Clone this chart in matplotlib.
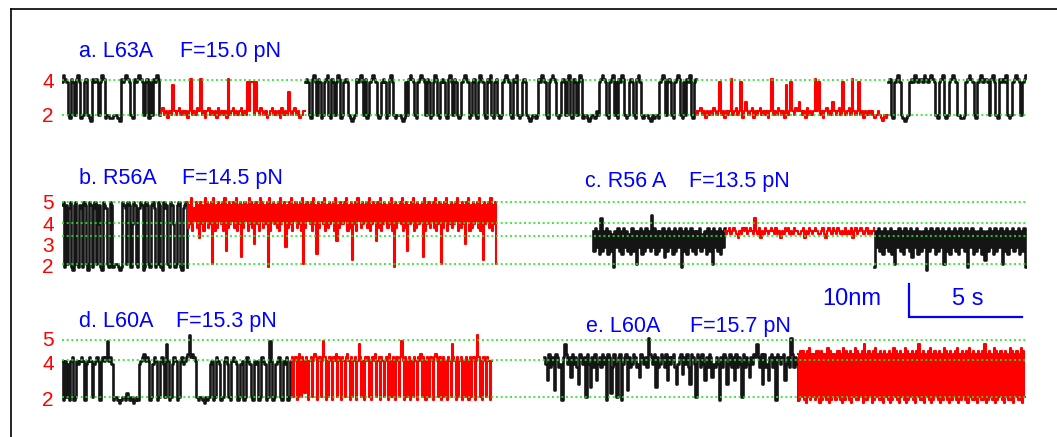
import numpy as np
import matplotlib
matplotlib.use('Agg')
import matplotlib.pyplot as plt
from matplotlib.lines import Line2D

plt.rcParams['font.family'] = ['Liberation Sans', 'DejaVu Sans']

W, H = 1057, 437
PX_PER_NM = 3.27      # vertical scale (10 nm bar)
PX_PER_S = 22.54      # horizontal scale (5 s bar)
X0 = 62               # left edge of the traces, px
T_SPAN = 42.8         # seconds shown per row

# extension of each state, nm above state 2
LEVELS_A = [0.0, 10.5]
LEVELS_BC = [0.0, 8.5, 12.4, 18.8]
LEVELS_DE = [0.0, 11.1, 17.4]

# state labels and the height (nm) each label is written at
LABELS_A = ['2', '4']
LABEL_Y_A = [0.0, 10.5]
LABELS_BC = ['2', '3', '4', '5']
LABEL_Y_BC = [-0.4, 6.0, 12.3, 19.0]
LABELS_DE = ['2', '4', '5']
LABEL_Y_DE = [-0.5, 10.6, 17.9]

# extension traces, one letter per sample: 'a' = -4 nm, +1 nm per letter
A_BLACK1 = "oqpoedpoepqodeopedcpopoeoqpdeeddeeedcpopqpoedpopqpoeopdoepoqpe"
A_RED1 = ("efgefdfenf" "efgefefdfp" "efegfpefdf" "gefefdgefe" "fdpefgefef"
          "gefeofooeo" "fegfefdefg" "efefdgefel" "fefgefdeff")
A_BLACK2 = ("opoedpqoepodeopqedpo" "eoqpdeopoedcdepopqoe" "pdeopqpoedeopodepqoe"
            "deeedcdoepqpoedopqpo" "epodeoqpedopoedpqoep" "oedeopqpodeopedoqpoe"
            "dpoqedopedeopqpoedpo" "qedeopoedcdeedepoqpo" "edopqpoedeopoepqedpo"
            "eoqpdeedcdeedfeopqpo" "edopqeodpoqpedeopoed" "pqoedeeedcedeedopqpe"
            "opoedopqpedoepoqedop")
A_RED2 = ("fefgefdfef" "egfefoefdf" "efpefgefod" "fifefgdfef" "gefefdfpef"
          "egfefdnefo" "fegfifefdg" "efefpfoefd" "fgefeifefg" "eofefgepfe"
          "foefdfefef" "edefedcede")
A_BLACK3 = ("opedopqoed" "cdeopoqpop" "poqpopqpoe" "dopqedeopq" "poeeddeopq"
            "poedopqopp" "oepqoedpop" "oqedeopqpo" "eopq")

B_BLACK = ("wxdwevxdcwxedwvdxwecxwdvxeqwdcxwvedxwdeeedcdxwvexwdqxwedvxwcdxwed"
           "wxvdexwdcxvwedxwqdewxdcvwxd")
B_RED = ("xpwqyovrxpwmxqwoyrxp" "wqxeyowpxrwqxoyiwpxq" "wrxpyowqxgwpxrwoyqxp"
         "wkxqwoyrxpwqxdyowrxq" "wpxoyqwrxjwpxqyowrxp" "wqxoyewpxrwqxoyqwhxp"
         "wrxqyowpxqwrxoylwpxq" "wqxryowpxfwqxoyrwpxq" "wrxpyowqxrwlxpyowqxr"
         "wpxqyowdxpwrxqyowpxi" "wqxryowpxqwrxgyowqxp" "wrxpyowqxewpxryowqxp"
         "wqxryowpxqwkxryowpxq" "wrxpyowfxqwrxpyowqxe")

C_BLACK1 = ("oipjohsiojphoindojpi" "ohpjoinhpioeojphoipj" "oitjphoiojpgoipjohpi"
            "ojpdoiphojpiohojpinj" "ohpioepjoiphojp")
C_RED = ("onopnoponm" "onpopnopon" "sonpmonpon" "oponpnomon" "popnonpoon"
         "nopmonpono" "ponnopnmop" "onponponon" "pnonpmopno" "ponopnonop")
C_BLACK2 = ("dojpiohpjoiphoeojpio" "hpjoipgojphoiojpcoip" "johpiojpeoiphojpiohp"
            "joipdojphoiojphofoip" "johpiojpeoiphojpiojphoipd")

D_BLACK = ("pdpeodpqdepo" "pqpdopqpeopqpd" "pqpqvpqo" "deedcdeedfedecded" "opqrpqp"
           "deoqpdepqoeupdeoqpdepqo" "pqrxqrqp" "edeedcede"
           "opdeqpodepqoedpqpodeopdeqpoedpopdeqpodevpdeopqedpoqdep")
D_RED = ("pqepqdpreqpfqpdpqepr" "qdpqepvqdpeqpdqpreqp" "dqpeqrpdqepqdpuqepdq"
         "pqepdqprepqdqpepqdrp" "eqpdqpeqvpdqepqdpeqp" "dqpreqpdqpeqpdqrpeqd"
         "pqepdqpeuqpdqepqdpeq" "pdqepqdpxqepdqpeqpdp")

E_BLACK = ("qojrnqogrqnodquroqkr" "oqnirqoqerohqnrjoqnr" "oqdrqfnroeqrdoqrgqno"
           "rqnokrqoqnwrqorhqnor" "qnrjqoqrnioqrlqornir" "qoerqnrojqnrqkonqodq"
           "nrqiornqjrnqoernqokq" "orquqnrirnojqrnqdrqo" "qrjoqnwrnqod")
E_RED = ("rdsesdrcsetdrerdsesc" "sdrerdtcsdrerdsesdrc" "tdserdscretdsdrescud"
         "rdsercsdterdsdrcserd" "scrdtesdrcserdtcsdre" "sdrcseudrdscresdtcrd"
         "serdscrdtesdrcsdresd" "tcrdserdscterdsdrcse" "rdsducrdserdtcsdresd"
         "rcserdtdscresdrdtcse")

# segments: (start s, end s, colour, samples)
ROW_A = [(0.0, 4.35, 'black', A_BLACK1), (4.35, 10.78, 'red', A_RED1),
         (10.78, 28.13, 'black', A_BLACK2), (28.13, 36.65, 'red', A_RED2),
         (36.65, 42.77, 'black', A_BLACK3)]
ROW_BC = [(0.0, 5.56, 'black', B_BLACK), (5.56, 19.28, 'red', B_RED),
          (23.54, 29.41, 'black', C_BLACK1), (29.41, 36.04, 'red', C_RED),
          (36.04, 42.75, 'black', C_BLACK2)]
ROW_DE = [(0.0, 10.16, 'black', D_BLACK), (10.16, 19.06, 'red', D_RED),
          (21.40, 32.67, 'black', E_BLACK), (32.67, 42.72, 'red', E_RED)]

# panel captions: (x px, baseline px, text)
CAPTIONS = [(79, 57, "a. L63A"), (180, 57, "F=15.0 pN"),
            (79, 184, "b. R56A"), (182, 184, "F=14.5 pN"),
            (585, 187, "c. R56 A"), (689, 187, "F=13.5 pN"),
            (79, 327, "d. L60A"), (176, 327, "F=15.3 pN"),
            (586, 332, "e. L60A"), (690, 332, "F=15.7 pN")]

SCALE_NM = 10
SCALE_S = 5

TRACE_COLORS = {'black': '#151515', 'red': '#ff0000'}


def decode(codes):
    return np.array([ord(c) - ord('a') - 4 for c in codes], dtype=float)


def add_row(fig, base_px, ylo, yhi, levels, labels, label_y, segments):
    bottom = H - base_px + ylo * PX_PER_NM
    ax = fig.add_axes([X0 / W, bottom / H, T_SPAN * PX_PER_S / W,
                       (yhi - ylo) * PX_PER_NM / H])
    ax.set_xlim(0, T_SPAN)
    ax.set_ylim(ylo, yhi)
    for t0, t1, color, codes in segments:
        y = decode(codes)
        t = np.linspace(t0, t1, len(y))
        lw = 1.9 if color == 'black' else 1.5
        ax.plot(t, y, color=TRACE_COLORS[color], lw=lw, drawstyle='steps-mid')
    for v in levels:
        ax.axhline(v, color='#22e622', lw=1.2, ls=(0, (1.2, 1.6)), zorder=5)
    ax.set_yticks(label_y)
    ax.set_yticklabels(labels, color='red', fontsize=15)
    ax.tick_params(axis='y', length=0, pad=6)
    ax.set_xticks([])
    for s in ax.spines.values():
        s.set_visible(False)
    ax.patch.set_alpha(0)
    return ax


fig = plt.figure(figsize=(W / 100, H / 100), dpi=100)

add_row(fig, 114.7, -6, 14, LEVELS_A, LABELS_A, LABEL_Y_A, ROW_A)
add_row(fig, 263.7, -6, 22, LEVELS_BC, LABELS_BC, LABEL_Y_BC, ROW_BC)
ax_de = add_row(fig, 396.7, -6, 22, LEVELS_DE, LABELS_DE, LABEL_Y_DE, ROW_DE)

# scale bar in the data units of the last row
bar_t = (909 - X0) / PX_PER_S
bar_y = (396.7 - 316.7) / PX_PER_NM
ax_de.plot([bar_t, bar_t, bar_t + SCALE_S], [bar_y + SCALE_NM, bar_y, bar_y],
           color='blue', lw=1.6, clip_on=False, solid_joinstyle='miter')
fig.text(822 / W, 1 - 305 / H, f"{SCALE_NM}nm", color='blue', fontsize=17,
         va='baseline', ha='left')
fig.text(952 / W, 1 - 305 / H, f"{SCALE_S} s", color='blue', fontsize=17,
         va='baseline', ha='left')

for x, y, s in CAPTIONS:
    fig.text(x / W, 1 - y / H, s, color='blue', fontsize=15.5,
             va='baseline', ha='left')

# outer frame (left and top edges)
fig.add_artist(Line2D([11 / W, 11 / W], [0, 1 - 9 / H], color='black', lw=1.2))
fig.add_artist(Line2D([11 / W, 1], [1 - 9 / H, 1 - 9 / H], color='black', lw=1.2))

fig.savefig('out.png', dpi=100)
